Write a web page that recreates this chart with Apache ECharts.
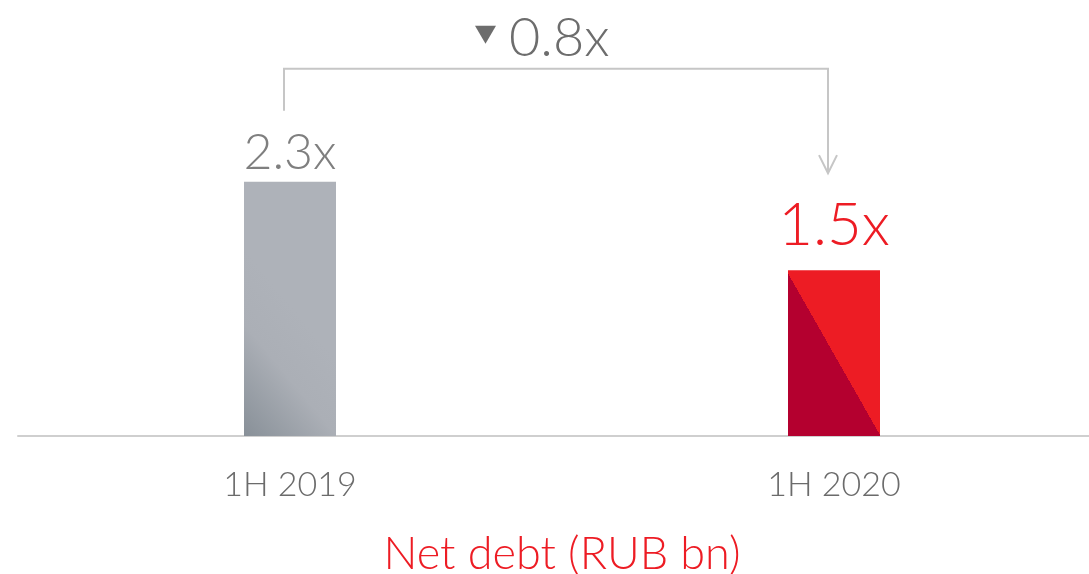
<!DOCTYPE html>
<html>
<head>
<meta charset="utf-8">
<script src="https://cdn.jsdelivr.net/npm/echarts@6/dist/echarts.min.js"></script>
<style>
  html, body { margin: 0; padding: 0; background: #fff; }
  #chart { width: 1089px; height: 574px; }
</style>
</head>
<body>
<div id="chart"></div>
<script>
const categories = ['1H 2019', '1H 2020']
const values = [2.3, 1.5]
const valueLabels = ['2.3x', '1.5x']
const changeLabel = '0.8x'
const axisTitle = 'Net debt (RUB bn)'

const FONT = 'Lato'
const RED = '#ed1c24'

const chart = echarts.init(document.getElementById('chart'))

const grayFill = new echarts.graphic.LinearGradient(0, 1, 1, 0.7, [
  { offset: 0, color: '#889098' },
  { offset: 0.6, color: '#abafb6' },
  { offset: 1, color: '#aeb2b9' },
])
// hard diagonal split: dark lower-left, bright upper-right
const redFill = new echarts.graphic.LinearGradient(0, 1, 1.52, 0.52, [
  { offset: 0, color: '#b4002f' },
  { offset: 0.5, color: '#b4002f' },
  { offset: 0.5, color: RED },
  { offset: 1, color: RED },
])

chart.setOption({
  animation: false,
  backgroundColor: '#fff',
  grid: { left: 18, right: -17, top: 49, bottom: 138, containLabel: false, outerBoundsMode: 'none' },
  xAxis: {
    type: 'category',
    data: categories,
    axisLine: { lineStyle: { color: '#cfcfcf', width: 2 } },
    axisTick: { show: false },
    axisLabel: { color: '#6b6b6b', fontFamily: FONT, fontSize: 34, fontWeight: 300, margin: 32 },
    name: axisTitle,
    nameLocation: 'middle',
    nameGap: 96,
    nameTextStyle: { color: RED, fontFamily: FONT, fontSize: 45, fontWeight: 300 },
  },
  yAxis: { type: 'value', min: 0, max: 3.5, show: false },
  series: [
    {
      type: 'bar',
      barWidth: 92,
      data: values.map((v, i) => ({
        value: v,
        itemStyle: { color: i === 0 ? grayFill : redFill },
        label: {
          show: true,
          position: 'top',
          distance: i === 0 ? 4 : 14,
          formatter: valueLabels[i],
          fontFamily: FONT,
          fontWeight: 300,
          fontSize: i === 0 ? 50 : 60,
          color: i === 0 ? '#7f7f7f' : RED,
        },
      })),
    },
  ],
})

// bracket arrow from first bar to second, placed relative to the bars
function drawBracket() {
  const p0 = chart.convertToPixel({ seriesIndex: 0 }, [0, values[0]])
  const p1 = chart.convertToPixel({ seriesIndex: 0 }, [1, values[1]])
  const xa = p0[0] - 6
  const xb = p1[0] - 6
  const yTop = p0[1] - 113
  const yStart = p0[1] - 71
  const yEnd = p1[1] - 97
  const lineStyle = { stroke: '#c6c6c6', lineWidth: 2, fill: null }
  const mid = (xa + xb) / 2
  chart.setOption({
    graphic: [
      { type: 'polyline', shape: { points: [[xa, yStart], [xa, yTop], [xb, yTop], [xb, yEnd]] }, style: lineStyle },
      { type: 'polyline', shape: { points: [[xb - 9, yEnd - 18], [xb, yEnd], [xb + 9, yEnd - 18]] }, style: lineStyle },
      { type: 'polygon', shape: { points: [[mid - 81, yTop - 43], [mid - 60, yTop - 43], [mid - 70.5, yTop - 25]] }, style: { fill: '#6d6d6d' } },
      {
        type: 'text', x: mid - 47, y: yTop - 30,
        style: { text: changeLabel, fontFamily: FONT, fontWeight: 300, fontSize: 54, fill: '#6d6d6d', verticalAlign: 'middle', align: 'left' },
      },
    ],
  })
}
drawBracket()

window.addEventListener('resize', () => chart.resize())
</script>
</body>
</html>
